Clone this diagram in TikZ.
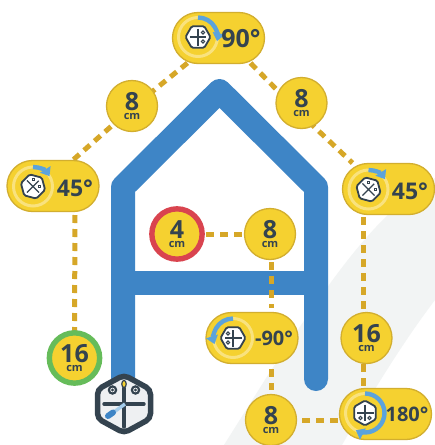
\documentclass[tikz,border=0pt]{standalone}
\usepackage{fontspec}
\setmainfont{Open Sans}
\usetikzlibrary{shapes.misc,arrows.meta}
\pgfdeclarelayer{lowest}
\pgfdeclarelayer{mid}
\pgfsetlayers{lowest,mid,main}
\definecolor{pillfill}{HTML}{F5D130}
\definecolor{pilledge}{HTML}{D2AE2F}
\definecolor{dashcol}{HTML}{D6A728}
\definecolor{ink}{HTML}{34434F}
\definecolor{houseblue}{HTML}{3E85C6}
\definecolor{arrowblue}{HTML}{5BA3DC}
\definecolor{ringcol}{HTML}{F9E27E}
\definecolor{bandgray}{HTML}{F2F4F4}
\definecolor{redring}{HTML}{D9444F}
\definecolor{greenring}{HTML}{66BC5A}
\definecolor{botbody}{HTML}{EEF0F2}
\tikzset{
 conn/.style={draw=dashcol,line width=5pt,dash pattern=on 8pt off 6pt},
 house/.style={draw=houseblue,line width=24pt,line cap=round,line join=round},
 dist/.style={circle,draw=pilledge,line width=1.3pt,fill=pillfill,minimum size=51pt,inner sep=0pt,align=center,text=ink},
 redcirc/.style={dist,draw=redring,line width=5.4pt,minimum size=50.3pt},
 greencirc/.style={dist,draw=greenring,line width=5.4pt,minimum size=50.3pt},
 pill/.style={rounded rectangle,draw=pilledge,line width=1.3pt,fill=pillfill,minimum width=92pt,minimum height=51pt,inner sep=0pt},
 angle/.style={font=\bfseries\fontsize{25}{25}\selectfont,text=ink,inner sep=0pt},
 anglemid/.style={angle,font=\bfseries\fontsize{23}{23}\selectfont},
 anglesmall/.style={angle,font=\bfseries\fontsize{20}{20}\selectfont},
}
\newcommand{\distlabel}[1]{{\fontsize{25}{24}\bfseries\selectfont #1}\\[-3.5pt]{\fontsize{11}{10}\bfseries\selectfont cm}}
% turn icon: centre, heading rotation, arc start angle, arc end angle
\newcommand{\turnicon}[4]{%
 \begin{scope}[shift={#1}]
  \draw[ringcol,line width=3pt] (0,0) circle (19.5pt);
  \begin{scope}[rotate=#2]
   \draw[ink,line width=1.8pt,fill=white,rounded corners=1.5pt] (30:12.5pt)--(90:12.5pt)--(150:12.5pt)--(210:12.5pt)--(270:12.5pt)--(330:12.5pt)--cycle;
   \draw[ink,line width=1.3pt] (-8.5pt,0)--(8.5pt,0) (0,-8.5pt)--(0,8pt);
   \draw[ink,line width=1pt] (-4.5pt,5pt) circle (1.6pt) (4.5pt,5pt) circle (1.6pt);
  \end{scope}
  \draw[arrowblue,line width=4.4pt,-{Triangle[width=12pt,length=8pt]}] (#3:19.5pt) arc[start angle=#3,end angle=#4,radius=19.5pt];
 \end{scope}}
\begin{document}
\begin{tikzpicture}[x=1pt,y=-1pt]
\useasboundingbox (0,0) rectangle (435,445);
\begin{pgfonlayer}{lowest}
\fill[white] (0,0) rectangle (435,445);
\fill[bandgray] (224,445) -- (268,375) .. controls (300,327) and (345,255) .. (390,213) -- (435,178) -- (435,300) .. controls (410,333) and (382,375) .. (342,445) -- cycle;
\draw[house] (123,380) -- (123,187) -- (219.5,91) -- (316,187) -- (316,379);
\draw[draw=houseblue,line width=23.5pt] (123,283) -- (316,283);
\end{pgfonlayer}
% nodes
\node[pill] (p90) at (218.5,38) {};
\node[dist] (d8a) at (132,106) {\distlabel{8}};
\node[dist] (d8b) at (301.5,103) {\distlabel{8}};
\node[pill] (p45l) at (53,186) {};
\node[pill] (p45r) at (388.5,189) {};
\node[redcirc] (d4) at (177,234) {\distlabel{4}};
\node[dist] (d8c) at (270,234) {\distlabel{8}};
\node[pill] (pm90) at (252,338) {};
\node[dist] (d16r) at (366.5,338) {\distlabel{16}};
\node[greencirc] (d16l) at (74.5,358) {\distlabel{16}};
\node[dist] (d8d) at (271,420) {\distlabel{8}};
\node[pill] (p180) at (385.5,414) {};
% connectors, under the nodes
\begin{pgfonlayer}{mid}
\draw[conn] ([shift={(-31,25)}]p90.center) -- ([shift={(0,2)}]d8a.center);
\draw[conn] ([shift={(0,2)}]d8a.center) -- ([shift={(20,-26)}]p45l.center);
\draw[conn] ([shift={(32,25)}]p90.center) -- ([shift={(-3,9)}]d8b.center);
\draw[conn] ([shift={(-3,9)}]d8b.center) -- ([shift={(-36,-26)}]p45r.center);
\draw[conn] ([shift={(22,29)}]p45l.center) -- ([shift={(0,-26)}]d16l.center);
\draw[conn] ([shift={(29,0)}]d4.center) -- (d8c.center);
\draw[conn] ([shift={(1,28)}]d8c.center) -- ([shift={(19,-30)}]pm90.center);
\draw[conn] ([shift={(19,31)}]pm90.center) -- ([shift={(0,-30)}]d8d.center);
\draw[conn] ([shift={(31,0)}]d8d.center) -- ([shift={(-44,6)}]p180.center);
\draw[conn] ([shift={(-25.5,28)}]p45r.center) -- ([shift={(-3.5,-26)}]d16r.center);
\draw[conn] ([shift={(-3.5,26)}]d16r.center) -- ([shift={(-22.5,-26)}]p180.center);
\end{pgfonlayer}
% icons
\turnicon{(198,37)}{-90}{90}{-12}
\turnicon{(33,186.5)}{-45}{90}{32}
\turnicon{(368.5,189.5)}{-45}{90}{32}
\turnicon{(233,338)}{90}{90}{198}
\turnicon{(365,413)}{180}{90}{-118}
\node[angle] (t90) at (241,39) {90°};
\node[anglemid] (t45l) at (75,188) {45°};
\node[anglemid] (t45r) at (410,191) {45°};
\node[anglesmall] (tm90) at (274,338) {-90°};
\node[anglesmall] (t180) at (407,414) {180°};
% robot
\begin{scope}[shift={(124,404)}]
 \draw[ink,line width=5.5pt,fill=botbody,rounded corners=5pt] (0,-29) -- (26.5,-14.5) -- (26.5,14.5) -- (0,29) -- (-26.5,14.5) -- (-26.5,-14.5) -- cycle;
 \draw[ink,line width=3.4pt,line cap=round] (-20,0) -- (20,0) (0,-16) -- (0,23);
 \draw[ink,line width=2.2pt,fill=white] (-11.5,-14) circle (3.6pt) (11.5,-14) circle (3.6pt);
 \fill[ink] (-11.5,-14) circle (1.6pt) (11.5,-14) circle (1.6pt);
 \draw[ink,line width=1.2pt,fill=pillfill] (0,-20) ellipse (2.2pt and 3.6pt);
 \draw[arrowblue!55,line width=3.4pt] (1,0) -- (-10,8);
 \draw[houseblue,line width=6pt,line cap=round] (-11,8.5) -- (-16,12);
\end{scope}
\end{tikzpicture}
\end{document}
